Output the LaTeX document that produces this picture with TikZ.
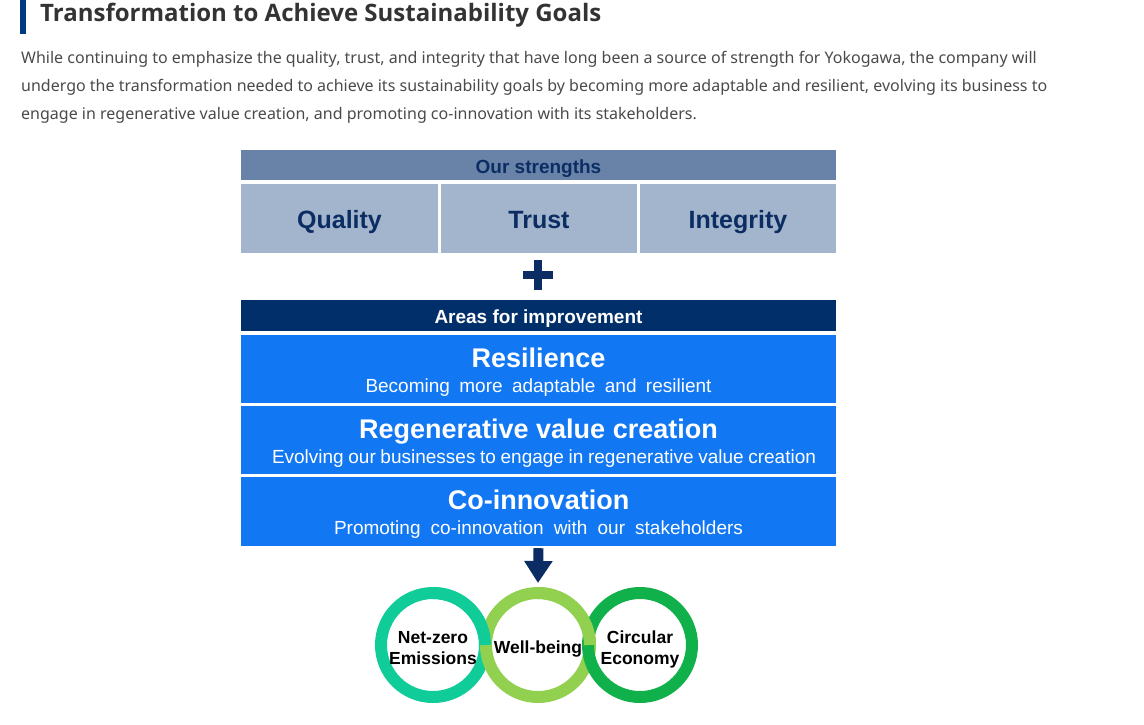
\documentclass[tikz,border=0pt]{standalone}
\usepackage{fontspec}
\setmainfont{Liberation Sans}
\newfontfamily\notosans{Noto Sans}
\newfontfamily\opensans{Open Sans}
\usetikzlibrary{arrows.meta,positioning}
\definecolor{cNavy}{HTML}{0B2D63}
\definecolor{cStrHead}{HTML}{6983A8}
\definecolor{cStrBox}{HTML}{A3B5CC}
\definecolor{cAreaHead}{HTML}{002F6A}
\definecolor{cBlue}{HTML}{1177F3}
\definecolor{cTeal}{HTML}{10CC98}
\definecolor{cLime}{HTML}{92D050}
\definecolor{cGreen}{HTML}{10B04A}
\definecolor{cHead}{HTML}{333333}
\definecolor{cBody}{HTML}{4A4A4A}
\definecolor{cBar}{HTML}{003A80}
\newcommand{\px}[2]{\fontsize{#1}{#2}\selectfont}

\begin{document}
\begin{tikzpicture}[
    x=1pt, y=-1pt,
    strhead/.style={rectangle, fill=cStrHead, text=cNavy, minimum width=595pt, minimum height=30pt, inner sep=0pt, text height=20pt, text depth=4pt, font=\px{19}{22}\bfseries},
    strbox/.style={rectangle, fill=cStrBox, text=cNavy, minimum width=197pt, minimum height=69pt, inner sep=0pt, text height=24pt, text depth=4pt, font=\px{25}{28}\bfseries},
    areahead/.style={rectangle, fill=cAreaHead, text=white, minimum width=595pt, minimum height=31pt, inner sep=0pt, text height=19.6pt, text depth=4pt, font=\px{19}{22}\bfseries},
    areabox/.style={rectangle, fill=cBlue, minimum width=595pt, minimum height=68pt, inner sep=0pt},
    areatitle/.style={inner sep=0pt, text=white, text height=25.3pt, text depth=6pt, font=\px{27}{30}\bfseries},
    areasub/.style={inner sep=0pt, text=white, text height=18.6pt, text depth=5pt, font=\px{19}{22}},
    ring/.style={circle, draw=#1, line width=12pt, minimum size=104pt, inner sep=0pt, align=center, text height=38pt, text depth=0pt, font=\px{17.5}{21}\bfseries},
    ringarc/.style={line width=12pt, draw=#1},
    plusarm/.style={line width=8pt, cNavy},
    bigarr/.style={-{Triangle[width=27pt, length=22pt]}, line width=10pt, cNavy},
    para/.style={anchor=west, inner sep=0pt, text=cBody, font=\notosans\px{16}{18}},
]
\useasboundingbox (0,0) rectangle (1144,724);

% heading and text
\fill[cBar] (20,0) rectangle (26,34);
\node[anchor=west, inner sep=0pt, text=cHead, font=\opensans\px{24}{28}\bfseries] (title) at (40,15) {Transformation to Achieve Sustainability Goals};
\node[para] (line1) at (21,59) {While continuing to emphasize the quality, trust, and integrity that have long been a source of strength for Yokogawa, the company will};
\node[para] (line2) at (21,87) {undergo the transformation needed to achieve its sustainability goals by becoming more adaptable and resilient, evolving its business to};
\node[para] (line3) at (21,115) {engage in regenerative value creation, and promoting co-innovation with its stakeholders.};

% strengths
\node[strhead] (strengths) at (538.5,165) {Our strengths};
\node[strbox] (quality) at (339.5,218.5) {Quality};
\node[strbox, minimum width=196pt] (trust) at (539,218.5) {Trust};
\node[strbox, minimum width=196pt] (integrity) at (738,218.5) {Integrity};

% plus
\node[minimum size=30pt, inner sep=0pt] (plus) at (538,275) {};
\draw[plusarm] (plus.north) -- (plus.south);
\draw[plusarm] (plus.west) -- (plus.east);

% areas for improvement
\node[areahead] (areas) at (538.5,315.5) {Areas for improvement};
\node[areabox] (resilience) at (538.5,369) {};
\node[areabox] (regen) at (538.5,440) {};
\node[areabox, minimum height=69pt] (coinno) at (538.5,511.5) {};
\node[areatitle] (resilienceT) at ([yshift=11.5pt]resilience.center) {Resilience};
\node[areasub] (resilienceS) at ([yshift=-16.5pt]resilience.center) {\makebox[346pt][s]{Becoming more adaptable and resilient}};
\node[areatitle] (regenT) at ([yshift=11.5pt]regen.center) {Regenerative value creation};
\node[areasub] (regenS) at ([shift={(5.5,-16.5pt)}]regen.center) {\makebox[544pt][s]{Evolving our businesses to engage in regenerative value creation}};
\node[areatitle] (coinnoT) at ([yshift=11.5pt]coinno.center) {Co-innovation};
\node[areasub] (coinnoS) at ([yshift=-16.5pt]coinno.center) {\makebox[409pt][s]{Promoting co-innovation with our stakeholders}};

% goals
\node[ring=cTeal] (netzero) at (433,645) {Net-zero\\Emissions};
\node[ring=cLime, text height=17pt] (wellbeing) at (538,645) {Well-being};
\node[ring=cGreen] (circular) at (640,645) {Circular\\Economy};
\draw[ringarc=cTeal] (netzero.center) ++(-90:52) arc (-90:0:52);
\draw[ringarc=cLime] (wellbeing.center) ++(-90:52) arc (-90:0:52);

\draw[bigarr] ([yshift=-2pt]coinno.south) -- ([yshift=4pt]wellbeing.north);

\end{tikzpicture}
\end{document}
